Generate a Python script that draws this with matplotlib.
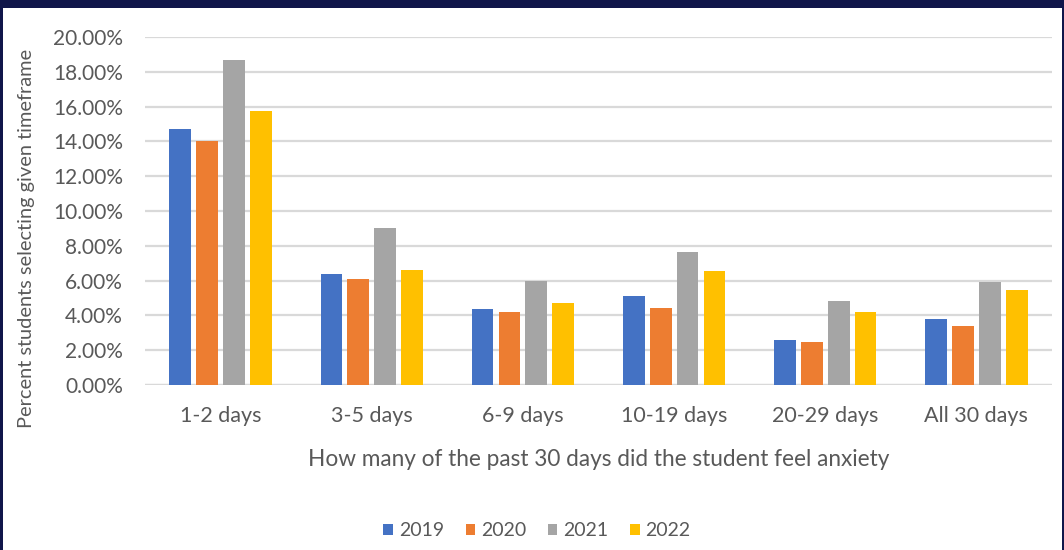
import matplotlib
matplotlib.use("Agg")
import matplotlib.pyplot as plt
import numpy as np
from matplotlib.patches import Rectangle

categories = ["1-2 days", "3-5 days", "6-9 days", "10-19 days", "20-29 days", "All 30 days"]
years = ["2019", "2020", "2021", "2022"]
v2019 = [14.7, 6.4, 4.35, 5.1, 2.6, 3.8]
v2020 = [14.0, 6.1, 4.2, 4.45, 2.5, 3.4]
v2021 = [18.7, 9.0, 6.0, 7.65, 4.8, 5.9]
v2022 = [15.75, 6.6, 4.7, 6.55, 4.2, 5.45]
yticks = [0, 2, 4, 6, 8, 10, 12, 14, 16, 18, 20]

series = [v2019, v2020, v2021, v2022]
colors = ["#4472C4", "#ED7D31", "#A5A5A5", "#FFC000"]
txt = "#595959"
plt.rcParams['font.family'] = ['Lato', 'DejaVu Sans']

fig = plt.figure(figsize=(10.64, 5.5), dpi=100)
fig.patch.set_facecolor("#10164a")
fig.patches.append(Rectangle((3/1064, 0), (1062-3)/1064, 1 - 8/550,
                             transform=fig.transFigure, facecolor="white",
                             edgecolor="none", zorder=-10))

ax = fig.add_axes([145/1064, 1 - 385/550, (1052-145)/1064, (385-37)/550])
ax.set_zorder(2)
ax.set_facecolor("none")
x = np.arange(len(categories))
offs = [-0.267, -0.089, 0.089, 0.267]
bw = 0.144
handles = []
for s, c, o, yr in zip(series, colors, offs, years):
    h = ax.bar(x + o, s, width=bw, color=c, label=yr, zorder=3)
    handles.append(h)

ax.set_xlim(-0.5, len(categories) - 0.5)
ax.set_ylim(0, 20)
ax.set_yticks(yticks)
ax.set_yticklabels([f"{t:.2f}%" for t in yticks])
ax.set_xticks(x)
ax.set_xticklabels(categories)
ax.grid(axis='y', color="#d9d9d9", linewidth=1.6, zorder=0)
for sp in ax.spines.values():
    sp.set_visible(False)
ax.tick_params(axis='y', length=0, colors=txt, labelsize=15, pad=16)
ax.tick_params(axis='x', length=0, colors=txt, labelsize=15.5, pad=15)
ax.axhline(0, color="#d9d9d9", linewidth=1.6, zorder=2)

fig.text(599/1064, 1 - 460/550, "How many of the past 30 days did the student feel anxiety",
         ha='center', va='center', color=txt, fontsize=16.3)
fig.text(27/1064, 1 - 238/550, "Percent students selecting given timeframe",
         ha='center', va='center', rotation=90, color=txt, fontsize=14.4)

leg = fig.legend(handles=handles, labels=years, loc='center', bbox_to_anchor=(537/1064, 1 - 531/550),
                 ncol=4, frameon=False, fontsize=14, handlelength=0.5, handleheight=0.5,
                 handletextpad=0.3, columnspacing=1.1)
for t in leg.get_texts():
    t.set_color(txt)

fig.savefig("out.png", dpi=100, facecolor=fig.get_facecolor())
